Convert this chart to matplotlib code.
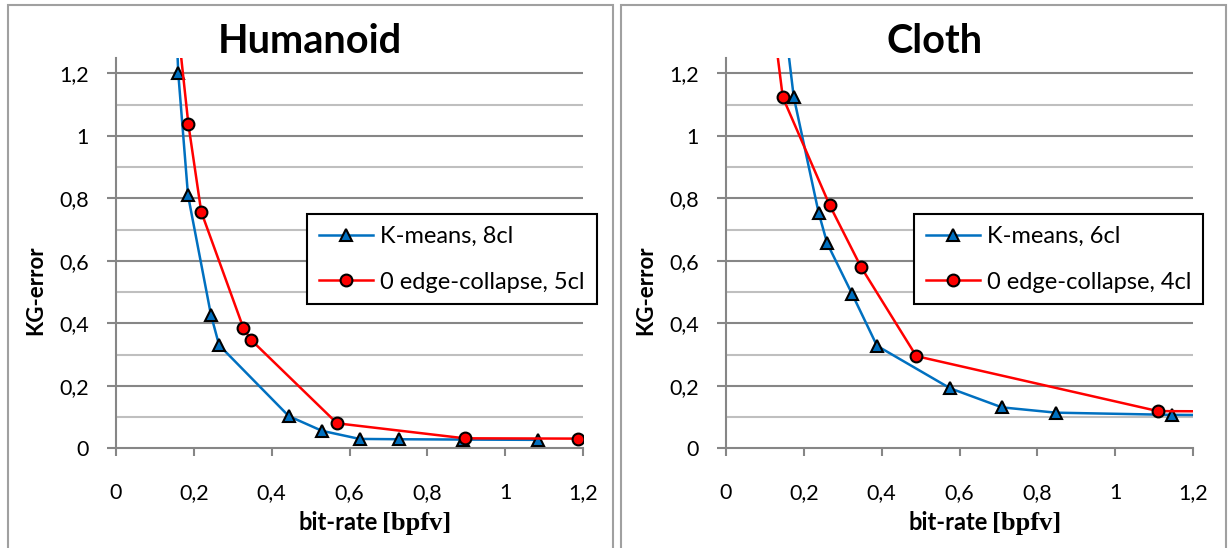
import matplotlib
matplotlib.use('Agg')
import matplotlib.pyplot as plt
from matplotlib.ticker import MultipleLocator, FuncFormatter
from matplotlib.patches import Rectangle

plt.rcParams['font.family'] = ['Lato', 'DejaVu Sans']

# Humanoid
hum_km_x = [0.150, 0.160, 0.185, 0.244, 0.265, 0.444, 0.529, 0.626, 0.726, 0.892, 1.084]
hum_km_y = [1.500, 1.200, 0.810, 0.427, 0.330, 0.103, 0.056, 0.030, 0.029, 0.028, 0.027]
hum_ec_x = [0.146, 0.186, 0.219, 0.327, 0.347, 0.568, 0.896, 1.187]
hum_ec_y = [1.500, 1.037, 0.757, 0.386, 0.347, 0.080, 0.032, 0.031]

# Cloth
clo_km_x = [0.138, 0.174, 0.238, 0.260, 0.324, 0.388, 0.576, 0.709, 0.848, 1.145, 1.300]
clo_km_y = [1.500, 1.125, 0.754, 0.656, 0.494, 0.328, 0.192, 0.131, 0.114, 0.107, 0.106]
clo_ec_x = [0.108, 0.146, 0.266, 0.347, 0.489, 1.110, 1.300]
clo_ec_y = [1.500, 1.123, 0.779, 0.580, 0.295, 0.119, 0.118]

panels = [
    ('Humanoid', hum_km_x, hum_km_y, hum_ec_x, hum_ec_y, 'K-means, 8cl', '0 edge-collapse, 5cl'),
    ('Cloth', clo_km_x, clo_km_y, clo_ec_x, clo_ec_y, 'K-means, 6cl', '0 edge-collapse, 4cl'),
]

W, H = 1232, 548
fig = plt.figure(figsize=(W / 100, H / 100), dpi=100)

def fx(px):
    return px / W

def fy(py):
    return 1 - py / H

BLUE = '#0070C0'
RED = '#FF0000'
MAJ = '#868686'
MIN = '#BFBFBF'

# panel frames and per panel offsets (pixels)
frames = [(8, 613), (621, 1226)]
axes_left = [116, 726]
title_x = [310, 935]
legend_x = [307, 914]

def comma_fmt(v, pos):
    s = ('%.1f' % v).rstrip('0').rstrip('.')
    return s.replace('.', ',')

for i, (title, kx, ky, ex, ey, lab_k, lab_e) in enumerate(panels):
    x0, x1 = frames[i]
    fig.patches.append(Rectangle((fx(x0), fy(560)), fx(x1 - x0), (560 - 5) / H,
                                 transform=fig.transFigure, fill=False,
                                 edgecolor='#A0A0A0', linewidth=1.5))

    left = axes_left[i]
    ax = fig.add_axes([fx(left), fy(448.3), fx(467), (448.3 - 57.7) / H])
    ax.set_xlim(0, 1.2)
    ax.set_ylim(0, 1.25)

    # grid lines (drawn manually so they stop at 1.2)
    ax.yaxis.set_major_locator(MultipleLocator(0.2))
    ax.xaxis.set_major_locator(MultipleLocator(0.2))
    for k in range(1, 13):
        v = k / 10
        if k % 2 == 0:
            ax.axhline(v, color=MAJ, lw=1.5, zorder=0)
        else:
            ax.axhline(v, color=MIN, lw=1.5, zorder=0)

    ax.plot(kx, ky, color=BLUE, lw=1.8, marker='^', markersize=8.5,
            markerfacecolor=BLUE, markeredgecolor='black', markeredgewidth=1.5,
            label=lab_k, zorder=3)
    ax.plot(ex, ey, color=RED, lw=1.8, marker='o', markersize=8.5,
            markerfacecolor=RED, markeredgecolor='black', markeredgewidth=1.5,
            label=lab_e, zorder=4)

    for s in ['top', 'right']:
        ax.spines[s].set_visible(False)
    for s in ['left', 'bottom']:
        ax.spines[s].set_color(MAJ)
        ax.spines[s].set_linewidth(1.5)

    ax.xaxis.set_major_formatter(FuncFormatter(comma_fmt))
    ax.yaxis.set_major_formatter(FuncFormatter(comma_fmt))
    ax.tick_params(axis='y', length=6.5, width=1.5, color=MAJ, pad=13, labelsize=15.5)
    ax.tick_params(axis='x', length=6, width=1.5, color=MAJ, pad=19, labelsize=15.5)

    fig.text(fx(title_x[i]), fy(53), title, ha='center', va='baseline',
             fontsize=28.5, fontweight='bold')
    fig.text(fx(left - 80), fy(290), 'KG-error', rotation=90, ha='center', va='center',
             fontsize=16, fontweight='bold')
    mid = left + 233
    fig.text(fx(mid + 29), fy(530), 'bit-rate', ha='right', va='baseline',
             fontsize=17, fontweight='bold')
    fig.text(fx(mid + 33), fy(530), '[bpfv]', ha='left', va='baseline',
             fontsize=19, fontweight='bold', family='Liberation Serif')

    leg = ax.legend(loc='upper left', bbox_to_anchor=(fx(legend_x[i]), fy(214)),
                    bbox_transform=fig.transFigure, borderaxespad=0, fontsize=17,
                    fancybox=False, framealpha=1, edgecolor='black',
                    handlelength=2.3, handletextpad=0.3, borderpad=0.5,
                    labelspacing=1.05)
    leg.get_frame().set_linewidth(1.5)
    leg.set_zorder(10)

fig.savefig('out.png', dpi=100)
